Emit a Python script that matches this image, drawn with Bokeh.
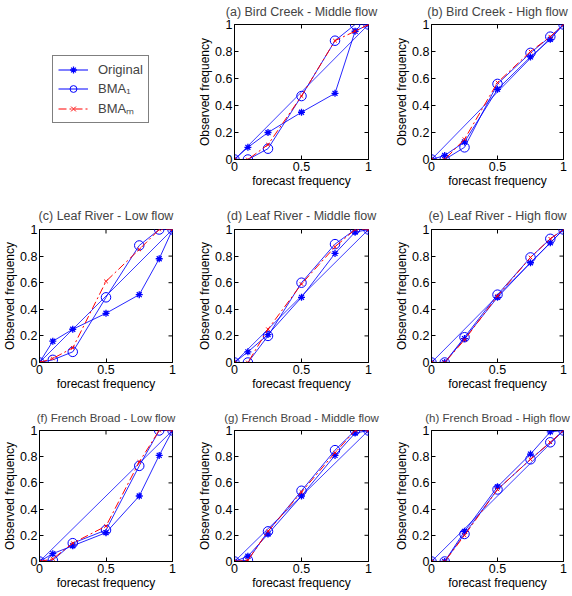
import math
from bokeh.plotting import figure
from bokeh.layouts import column, row
from bokeh.models import (Legend, LegendItem, FixedTicker,
                          NumeralTickFormatter, Range1d)
from bokeh.embed import file_html
from bokeh.resources import INLINE

# ---------------- data ----------------
forecast = [0, 0.1, 0.25, 0.5, 0.75, 0.9, 1]
diag_x = [0, 1]
diag_y = [0, 1]
x_ticks = [0, 0.5, 1]
y_ticks = [0, 0.2, 0.4, 0.6, 0.8, 1]

title_a = "(a) Bird Creek - Middle flow"
orig_a = [0, 0.09, 0.20, 0.35, 0.49, 0.95, 1]
bma1_a = [0, 0.00, 0.08, 0.47, 0.88, 1.00, 1]
bmam_a = [0, 0.00, 0.11, 0.47, 0.88, 0.95, 1]

title_b = "(b) Bird Creek - High flow"
orig_b = [0, 0.03, 0.13, 0.52, 0.76, 0.89, 1]
bma1_b = [0, 0.00, 0.09, 0.56, 0.79, 0.91, 1]
bmam_b = [0, 0.00, 0.15, 0.57, 0.80, 0.91, 1]

title_c = "(c) Leaf River - Low flow"
orig_c = [0, 0.16, 0.25, 0.37, 0.51, 0.78, 1]
bma1_c = [0, 0.02, 0.08, 0.49, 0.88, 1.00, 1]
bmam_c = [0, 0.03, 0.11, 0.61, 0.85, 1.00, 1]

title_d = "(d) Leaf River - Middle flow"
orig_d = [0, 0.08, 0.21, 0.49, 0.82, 0.98, 1]
bma1_d = [0, 0.00, 0.20, 0.60, 0.89, 1.00, 1]
bmam_d = [0, 0.00, 0.25, 0.59, 0.87, 1.00, 1]

title_e = "(e) Leaf River - High flow"
orig_e = [0, 0.00, 0.18, 0.49, 0.75, 0.90, 1]
bma1_e = [0, 0.00, 0.19, 0.51, 0.79, 0.93, 1]
bmam_e = [0, 0.00, 0.17, 0.50, 0.79, 0.93, 1]

title_f = "(f) French Broad - Low flow"
orig_f = [0, 0.06, 0.12, 0.22, 0.50, 0.81, 1]
bma1_f = [0, 0.01, 0.14, 0.24, 0.73, 1.00, 1]
bmam_f = [0, 0.02, 0.14, 0.27, 0.76, 1.00, 1]

title_g = "(g) French Broad - Middle flow"
orig_g = [0, 0.04, 0.21, 0.50, 0.81, 0.98, 1]
bma1_g = [0, 0.01, 0.23, 0.54, 0.85, 1.00, 1]
bmam_g = [0, 0.01, 0.23, 0.53, 0.83, 1.00, 1]

title_h = "(h) French Broad - High flow"
orig_h = [0, 0.00, 0.23, 0.57, 0.82, 0.99, 1]
bma1_h = [0, 0.00, 0.21, 0.55, 0.78, 0.91, 1]
bmam_h = [0, 0.00, 0.20, 0.55, 0.78, 0.91, 1]

legend_labels = ["Original", "BMA\u2081", "BMA\u2098"]

# ---------------- style ----------------
FONT = "Liberation Sans"
BLUE = "#0000ff"
RED = "#ff0000"

# column geometry: (border_left, frame_width, border_right)
cols = [(39, 133, 18), (44, 134, 14), (49, 132, 9)]
# row geometry: (border_top, frame_height, border_bottom,
#                title size, title standoff, title vertical align)
rows_g = [(24, 135, 39, "12.5px", 7, "top"),
          (31, 133, 34, "12.5px", 14, "bottom"),
          (34, 131, 31, "11.5px", 14, "bottom")]


def style_axis(ax, ticks):
    ax.ticker = FixedTicker(ticks=ticks)
    ax.formatter = NumeralTickFormatter(format="0.[0]")
    ax.major_tick_in = 4
    ax.major_tick_out = 0
    ax.minor_tick_line_color = None
    ax.axis_line_color = "black"
    ax.major_tick_line_color = "black"
    ax.major_label_text_font = FONT
    ax.major_label_text_color = "black"
    ax.major_label_text_font_size = "12.5px"
    ax.major_label_standoff = 2
    ax.axis_label_text_font = FONT
    ax.axis_label_text_font_style = "normal"
    ax.axis_label_text_color = "black"
    ax.axis_label_text_font_size = "12px"
    ax.axis_label_standoff = 0


def panel(title, orig, bma1, bmam, cg, rg):
    bl, fw, br = cg
    bt, fh, bb, tsize, tstand, valign = rg
    p = figure(frame_width=fw, frame_height=fh,
               x_range=Range1d(0, 1), y_range=Range1d(0, 1),
               min_border_left=bl, min_border_right=br,
               min_border_top=bt, min_border_bottom=bb,
               toolbar_location=None, output_backend="svg",
               title=title)
    p.title.text_font = FONT
    p.title.text_font_size = tsize
    p.title.text_font_style = "normal"
    p.title.align = "center"
    p.title.standoff = tstand
    p.title.vertical_align = valign
    p.xgrid.visible = False
    p.ygrid.visible = False
    p.outline_line_color = "black"
    p.outline_line_alpha = 1
    p.background_fill_color = "white"
    p.border_fill_color = "white"

    p.xaxis.axis_label = "forecast frequency"
    p.yaxis.axis_label = "Observed frequency"
    style_axis(p.xaxis[0], x_ticks)
    style_axis(p.yaxis[0], y_ticks)

    # inward ticks on the right and top edges of the box
    p.ray(x=[1] * len(y_ticks), y=y_ticks, length=4, length_units="screen",
          angle=math.pi, line_color="black", line_width=1)
    p.ray(x=x_ticks, y=[1] * len(x_ticks), length=4, length_units="screen",
          angle=-math.pi / 2, line_color="black", line_width=1)

    p.line(diag_x, diag_y, line_color=BLUE, line_width=0.9, line_alpha=0.85)
    p.line(forecast, orig, line_color=BLUE, line_width=1, line_alpha=0.85)
    p.scatter(forecast, orig, marker="asterisk", size=7, line_color=BLUE,
              line_width=1.3)
    p.line(forecast, bma1, line_color=BLUE, line_width=1, line_alpha=0.85)
    p.scatter(forecast, bma1, marker="circle", size=9.5, line_color=BLUE,
              fill_color=None, line_width=1)
    p.line(forecast, bmam, line_color=RED, line_width=1, line_dash="8 3 2 3")
    p.scatter(forecast, bmam, marker="x", size=5, line_color=RED,
              line_width=1)
    return p


# legend panel
lp = figure(frame_width=190, frame_height=198, x_range=Range1d(0, 1),
            y_range=Range1d(0, 1), min_border=0, toolbar_location=None,
            output_backend="svg")
lp.axis.visible = False
lp.xgrid.visible = False
lp.ygrid.visible = False
lp.outline_line_color = None
far = [-5, -4]
l1 = lp.line(far, far, line_color=BLUE, line_width=1)
s1 = lp.scatter(far, far, marker="asterisk", size=7, line_color=BLUE,
                line_width=1.3)
l2 = lp.line(far, far, line_color=BLUE, line_width=1)
s2 = lp.scatter(far, far, marker="circle", size=10, line_color=BLUE,
                fill_color=None)
l3 = lp.line(far, far, line_color=RED, line_width=1, line_dash="8 3 2 3")
s3 = lp.scatter(far, far, marker="x", size=5, line_color=RED)
legend = Legend(items=[
    LegendItem(label=legend_labels[0], renderers=[l1, s1]),
    LegendItem(label=legend_labels[1], renderers=[l2, s2]),
    LegendItem(label=legend_labels[2], renderers=[l3, s3]),
], location=(52, 75))
legend.border_line_color = "black"
legend.border_line_width = 1
legend.padding = 5
legend.spacing = 2
legend.margin = 0
legend.label_height = 17
legend.glyph_height = 17
legend.glyph_width = 30
legend.label_standoff = 10
legend.label_text_font = FONT
legend.label_text_font_size = "13px"
legend.background_fill_alpha = 1
lp.add_layout(legend)

pa = panel(title_a, orig_a, bma1_a, bmam_a, cols[1], rows_g[0])
pb = panel(title_b, orig_b, bma1_b, bmam_b, cols[2], rows_g[0])
pc = panel(title_c, orig_c, bma1_c, bmam_c, cols[0], rows_g[1])
pd = panel(title_d, orig_d, bma1_d, bmam_d, cols[1], rows_g[1])
pe = panel(title_e, orig_e, bma1_e, bmam_e, cols[2], rows_g[1])
pf = panel(title_f, orig_f, bma1_f, bmam_f, cols[0], rows_g[2])
pg = panel(title_g, orig_g, bma1_g, bmam_g, cols[1], rows_g[2])
ph = panel(title_h, orig_h, bma1_h, bmam_h, cols[2], rows_g[2])

layout = column(row(lp, pa, pb, spacing=0),
                row(pc, pd, pe, spacing=0),
                row(pf, pg, ph, spacing=0), spacing=0)

html = file_html(layout, INLINE)
html = html.replace("<body>", '<body style="margin:0;background:white;">')
open("out.html", "w").write(html)
